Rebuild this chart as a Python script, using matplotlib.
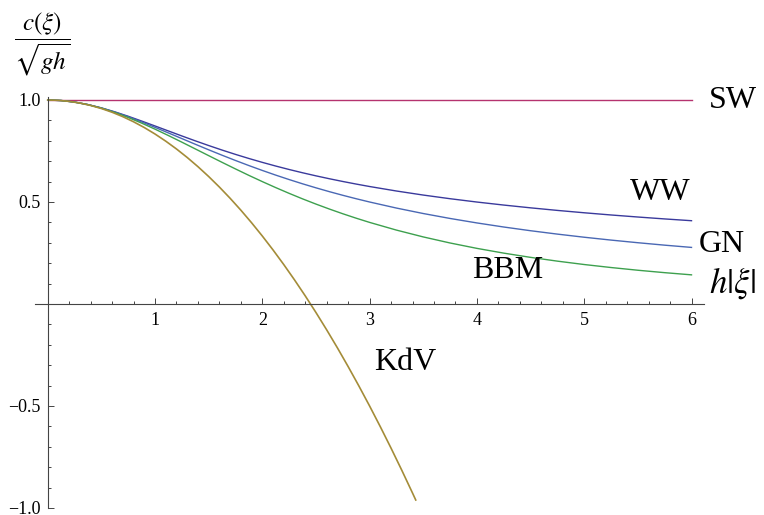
import numpy as np
import matplotlib
matplotlib.use("Agg")
import matplotlib.pyplot as plt
from matplotlib.ticker import FixedLocator

plt.rcParams['mathtext.fontset'] = 'stix'
plt.rcParams['font.family'] = ['Liberation Serif', 'DejaVu Serif']

# ---- data ----
k = [0, 0.125, 0.25, 0.375, 0.5, 0.625, 0.75, 0.875, 1, 1.125, 1.25, 1.375,
     1.5, 1.625, 1.75, 1.875, 2, 2.125, 2.25, 2.375, 2.5, 2.625, 2.75, 2.875,
     3, 3.25, 3.5, 3.75, 4, 4.25, 4.5, 4.75, 5, 5.25, 5.5, 5.75, 6]
sw = [1.0] * len(k)
ww = [1.0, 0.9974, 0.9898, 0.9776, 0.9614, 0.9420, 0.9203, 0.8969, 0.8727,
      0.8482, 0.8238, 0.7999, 0.7768, 0.7546, 0.7334, 0.7133, 0.6943, 0.6763,
      0.6593, 0.6433, 0.6282, 0.6140, 0.6006, 0.5879, 0.5759, 0.5539, 0.5340,
      0.5161, 0.4998, 0.4850, 0.4714, 0.4588, 0.4472, 0.4364, 0.4264, 0.4170,
      0.4083]
gn = [1.0, 0.9974, 0.9898, 0.9774, 0.9608, 0.9406, 0.9177, 0.8926, 0.8660,
      0.8386, 0.8109, 0.7832, 0.7559, 0.7293, 0.7035, 0.6786, 0.6547, 0.6318,
      0.6100, 0.5892, 0.5695, 0.5507, 0.5329, 0.5160, 0.5000, 0.4703, 0.4435,
      0.4193, 0.3974, 0.3774, 0.3592, 0.3426, 0.3273, 0.3133, 0.3004, 0.2884,
      0.2774]
bbm = [1.0, 0.9974, 0.9897, 0.9771, 0.9600, 0.9389, 0.9143, 0.8868, 0.8571,
       0.8258, 0.7934, 0.7604, 0.7273, 0.6944, 0.6621, 0.6305, 0.6000, 0.5706,
       0.5424, 0.5154, 0.4898, 0.4655, 0.4424, 0.4206, 0.4000, 0.3623, 0.3288,
       0.2991, 0.2727, 0.2494, 0.2286, 0.2101, 0.1935, 0.1788, 0.1655, 0.1536,
       0.1429]
k_kdv = [0, 0.1, 0.2, 0.3, 0.4, 0.5, 0.6, 0.7, 0.8, 0.9, 1.0, 1.1, 1.2, 1.3,
         1.4, 1.5, 1.6, 1.7, 1.8, 1.9, 2.0, 2.1, 2.2, 2.3, 2.4, 2.5, 2.6, 2.7,
         2.8, 2.9, 3.0, 3.1, 3.2, 3.3, 3.4, 3.43]
kdv = [1.0, 0.9983, 0.9933, 0.985, 0.9733, 0.9583, 0.94, 0.9183, 0.8933,
       0.865, 0.8333, 0.7983, 0.76, 0.7183, 0.6733, 0.625, 0.5733, 0.5183,
       0.46, 0.3983, 0.3333, 0.265, 0.1933, 0.1183, 0.04, -0.0417, -0.1267,
       -0.215, -0.3067, -0.4017, -0.5, -0.6017, -0.7067, -0.815, -0.9267,
       -0.9608]

x_major = [1, 2, 3, 4, 5, 6]
y_major = [-1.0, -0.5, 0.5, 1.0]
y_major_labels = ['\u22121.0', '\u22120.5', '0.5', '1.0']

# ---- figure ----
W, H = 764, 515
fig = plt.figure(figsize=(W / 100, H / 100), dpi=100)
ax = fig.add_axes([0, 0, 1, 1])
ax.patch.set_alpha(0)

x0_px, xs = 47.7, 107.3   # pixel of x=0, px per unit
y0_px, ys = 304.0, 204.0  # pixel of y=0, px per unit
ax.set_xlim(-x0_px / xs, (W - x0_px) / xs)
ax.set_ylim((y0_px - H) / ys, y0_px / ys)

lw = 1.0
ax.plot(k, sw, color='#B5336F', lw=lw)
ax.plot(k, ww, color='#3A3A9C', lw=lw)
ax.plot(k, gn, color='#4A68B4', lw=lw)
ax.plot(k, bbm, color='#3DA04E', lw=lw)
ax.plot(k_kdv, kdv, color='#A48C38', lw=lw + 0.2)

# axes through origin
axc = '#444444'
for s in ['top', 'right']:
    ax.spines[s].set_visible(False)
ax.spines['left'].set_position(('data', 0))
ax.spines['bottom'].set_position(('data', 0))
ax.spines['left'].set_bounds(-1.0, 1.015)
ax.spines['bottom'].set_bounds(-0.12, 6.12)
for s in ['left', 'bottom']:
    ax.spines[s].set_color(axc)
    ax.spines[s].set_linewidth(0.8)

ax.xaxis.set_major_locator(FixedLocator(x_major))
ax.xaxis.set_minor_locator(FixedLocator([v / 5 for v in range(1, 31) if v % 5]))
ax.yaxis.set_major_locator(FixedLocator(y_major))
ax.yaxis.set_minor_locator(FixedLocator([v / 10 for v in range(-9, 10) if v % 5]))
ax.set_xticklabels([str(v) for v in x_major])
ax.set_yticklabels(y_major_labels)
ax.tick_params(which='both', direction='in', color=axc, width=0.7, labelsize=13)
ax.tick_params(which='major', length=4)
ax.tick_params(which='minor', length=2.3)
ax.tick_params(axis='x', pad=6)
ax.tick_params(axis='y', pad=5)

# curve labels
fs = 23
ax.text(6.39, 1.0, 'SW', fontsize=fs, ha='center', va='center')
ax.text(5.71, 0.545, 'WW', fontsize=fs, ha='center', va='center')
ax.text(6.28, 0.29, 'GN', fontsize=fs, ha='center', va='center')
ax.text(4.29, 0.165, 'BBM', fontsize=fs, ha='center', va='center')
ax.text(3.33, -0.285, 'KdV', fontsize=fs, ha='center', va='center')

# axis labels
ax.text(6.38, 0.10, r'$h|\xi|$', fontsize=25, ha='center', va='center')
fig.text(42 / W, 1 - 44 / H, r'$\dfrac{c(\xi)}{\sqrt{gh}}$', fontsize=18,
         ha='center', va='center')

fig.savefig('out.png', dpi=100)
